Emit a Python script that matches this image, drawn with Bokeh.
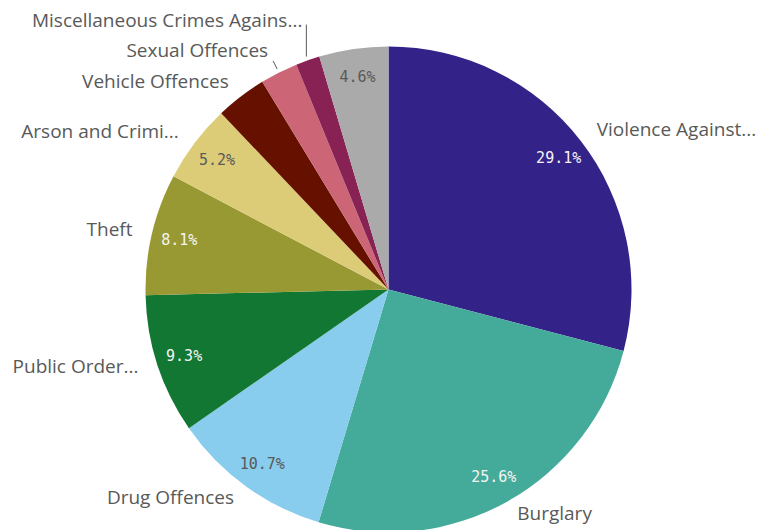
import numpy as np
from bokeh.plotting import figure
from bokeh.models import Range1d, ColumnDataSource
from bokeh.core.properties import value
from bokeh.embed import file_html
from bokeh.resources import INLINE

# ---- data ----
categories = ["Violence Against Persons", "Burglary", "Drug Offences", "Public Order Offences",
              "Theft", "Arson and Criminal Damage", "Vehicle Offences", "Sexual Offences",
              "Miscellaneous Crimes Against Society", "Others"]
shown_labels = ["Violence Against...", "Burglary", "Drug Offences", "Public Order...",
                "Theft", "Arson and Crimi...", "Vehicle Offences", "Sexual Offences",
                "Miscellaneous Crimes Agains...", ""]
shares = [29.1, 25.6, 10.7, 9.3, 8.1, 5.2, 3.4, 2.5, 1.6, 4.6]

# ---- style ----
colors = ["#332288", "#44AA99", "#88CCEE", "#117733", "#999933",
          "#DDCC77", "#661100", "#CC6677", "#882255", "#AAAAAA"]
inner_text_colors = ["#f4f4f4", "#f4f4f4", "#595959", "#f4f4f4", "#f4f4f4",
                     "#595959", "#f4f4f4", "#f4f4f4", "#f4f4f4", "#595959"]
W, H = 764, 530
CX, CY = 388, H - 289
R = 243
TOP_PAD, BOTTOM_PAD = 20, 18
LOWER_SHIFT = 5
leader_up = {"Sexual Offences": 0, "Miscellaneous Crimes Agains...": 20}

vals = np.array(shares, dtype=float)
frac = vals / vals.sum()
cum = np.concatenate([[0.0], np.cumsum(frac)])
start = np.pi / 2 - 2 * np.pi * cum[:-1]
end = np.pi / 2 - 2 * np.pi * cum[1:]
mid = (start + end) / 2

p = figure(width=W, height=H, x_range=Range1d(0, W), y_range=Range1d(0, H),
           output_backend="svg", toolbar_location=None, min_border=0)
p.axis.visible = False
p.grid.visible = False
p.outline_line_color = None
p.background_fill_color = "white"

src = ColumnDataSource(dict(start=start, end=end, color=colors))
p.wedge(x=CX, y=CY, radius=R, start_angle="start", end_angle="end",
        direction="clock", fill_color="color", line_color=None, source=src)

# inner percent labels
ri = 215
ix, iy, it, ic = [], [], [], []
for i, v in enumerate(shares):
    if v >= 4:
        ix.append(CX + ri * np.cos(mid[i]))
        iy.append(CY + ri * np.sin(mid[i]))
        it.append(f"{v:.1f}%")
        ic.append(inner_text_colors[i])
p.text(x=ix, y=iy, text=it, text_color=ic, text_align="center", text_baseline="middle",
       text_font=value("DejaVu Sans Mono"), text_font_size="15px")

# outer labels
ro = R + 20
ox, oy, ot, oa = [], [], [], []
for i, lab in enumerate(shown_labels):
    if not lab:
        continue
    c, s = np.cos(mid[i]), np.sin(mid[i])
    x = CX + ro * c
    y = CY + ro * s
    if s < 0:
        y += LOWER_SHIFT
    y = min(max(y, BOTTOM_PAD), H - TOP_PAD)
    align = "left" if c >= 0 else "right"
    if lab in leader_up:
        ex, ey = CX + (R + 4) * c, CY + (R + 4) * s
        up = leader_up[lab]
        if up == 0:
            tx, ty = CX + (R + 13) * c, CY + (R + 13) * s
            p.line([ex, tx], [ey, ty], line_color="#595959", line_width=1)
            x, y = tx - 5, ty + 11
        else:
            y = CY + (R + 22) * s + up
            p.line([ex, ex], [ey, y - 5], line_color="#595959", line_width=1)
            x = ex - 4
    ox.append(x); oy.append(y); ot.append(lab); oa.append(align)
p.text(x=ox, y=oy, text=ot, text_align=oa, text_baseline="middle", text_color="#595959",
       text_font=value("Open Sans"), text_font_size="19px")

open("out.html", "w").write(file_html(p, INLINE))
